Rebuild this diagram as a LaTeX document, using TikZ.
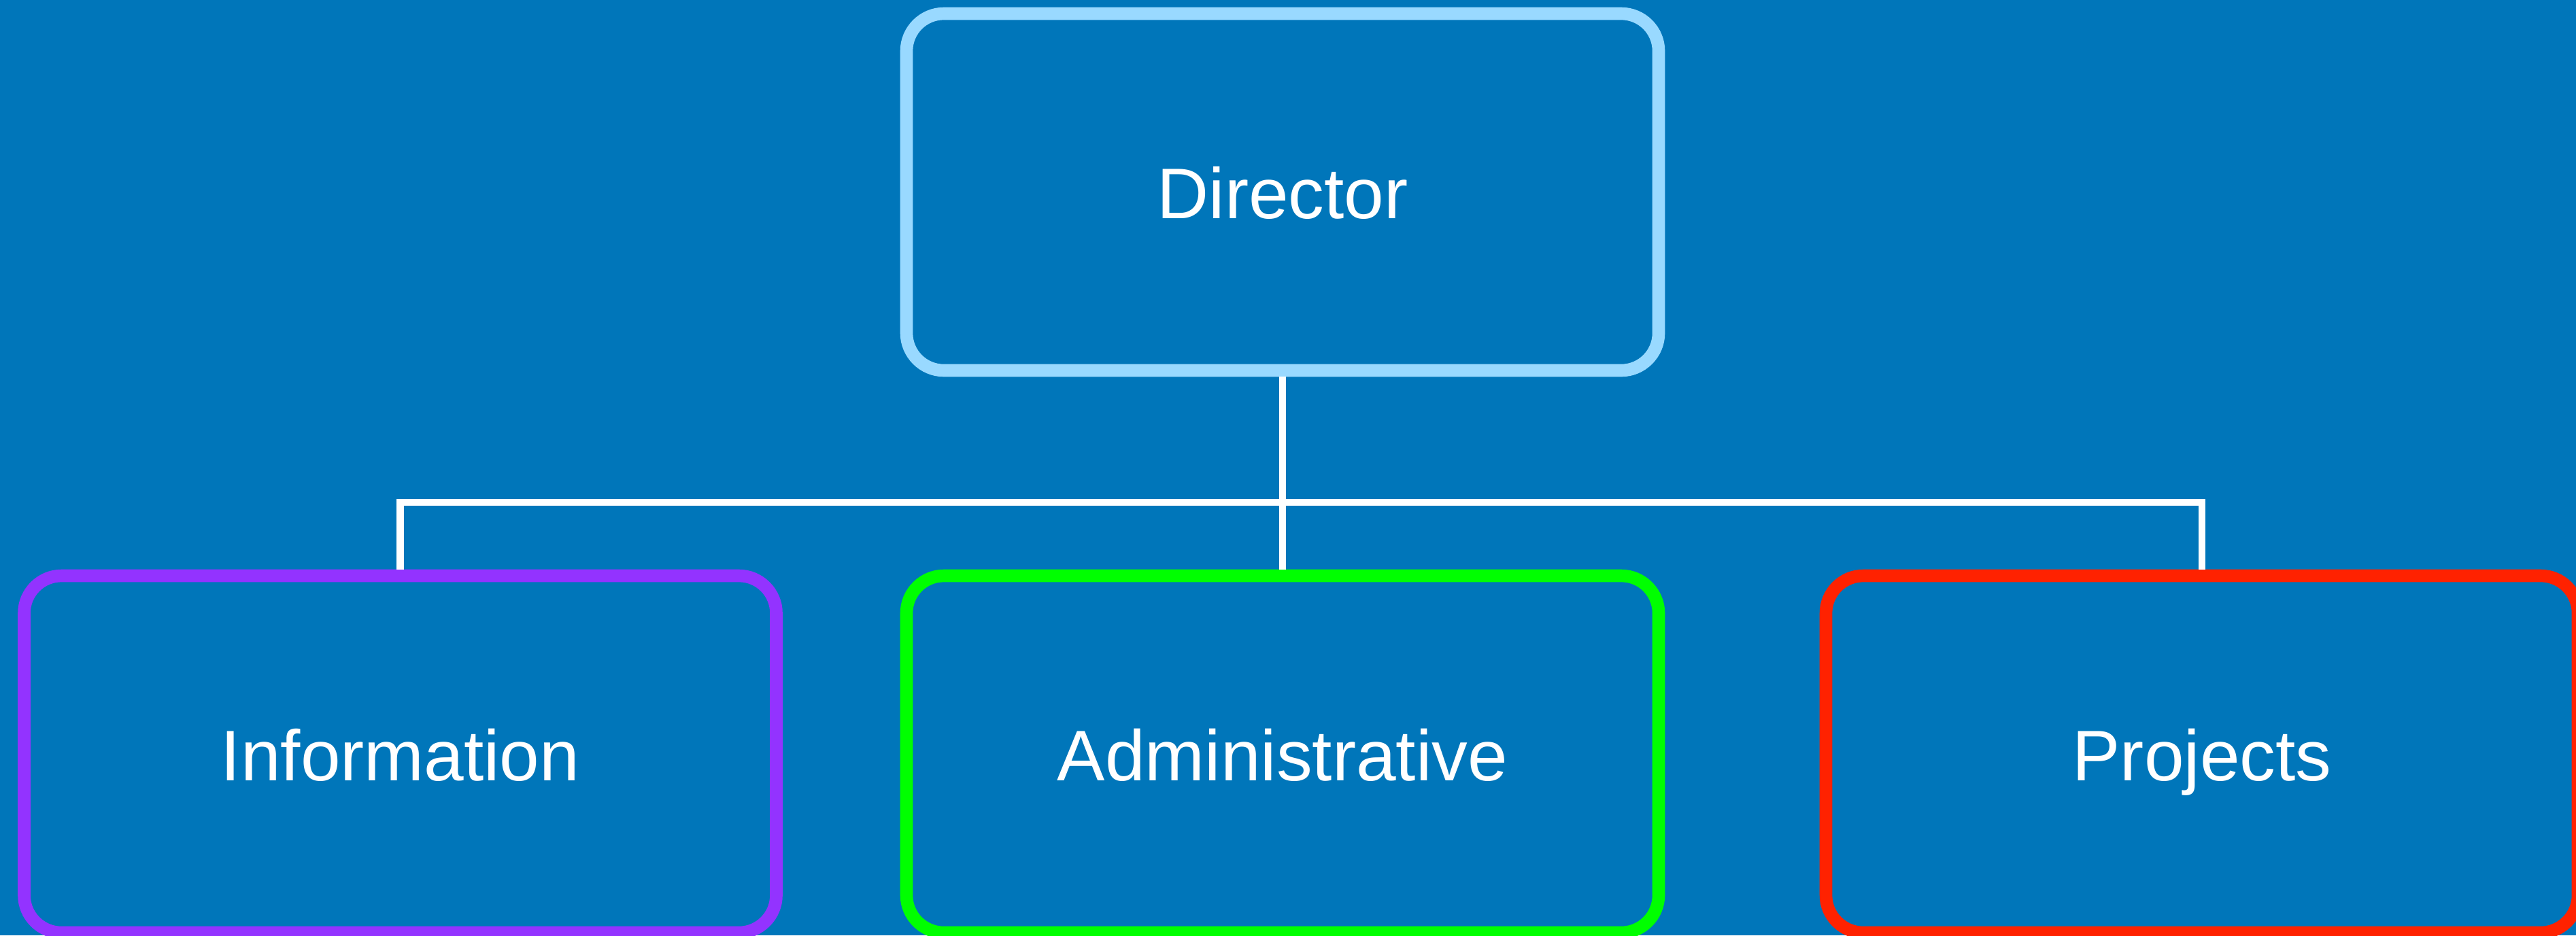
\documentclass[tikz,border=0pt]{standalone}
\usepackage{fontspec}
\setmainfont{Liberation Sans}
\definecolor{bgblue}{RGB}{0,118,186}
\definecolor{lightblue}{RGB}{153,217,255}
\definecolor{purplebox}{RGB}{147,51,255}
\definecolor{greenbox}{RGB}{0,255,0}
\definecolor{redbox}{RGB}{255,34,0}
\begin{document}
\begin{tikzpicture}[
    unit/.style={draw=#1, line width=5.3pt, rounded corners=0.55cm, minimum width=11.06cm,
        minimum height=5.25cm, text=white, font=\fontsize{30}{36}\selectfont,
        text height=22pt, text depth=0pt},
    link/.style={draw=white, line width=3pt}]
    \fill[bgblue] (0,0) rectangle (37.88,-13.76);
    \useasboundingbox (0,0) rectangle (37.88,-13.76);
    \node[unit=lightblue] (director) at (18.86,-2.825) {Director};
    \node[unit=purplebox] (info) at (5.885,-11.095) {Information};
    \node[unit=greenbox] (admin) at (18.86,-11.095) {Administrative};
    \node[unit=redbox] (projects) at (32.38,-11.095) {Projects};
    \coordinate (bus) at (18.86,-7.39);
    \draw[link] (director.south) -- (admin.north);
    \draw[link] (info.north) -- (info.north |- bus) -- (projects.north |- bus) -- (projects.north);
\end{tikzpicture}
\end{document}
